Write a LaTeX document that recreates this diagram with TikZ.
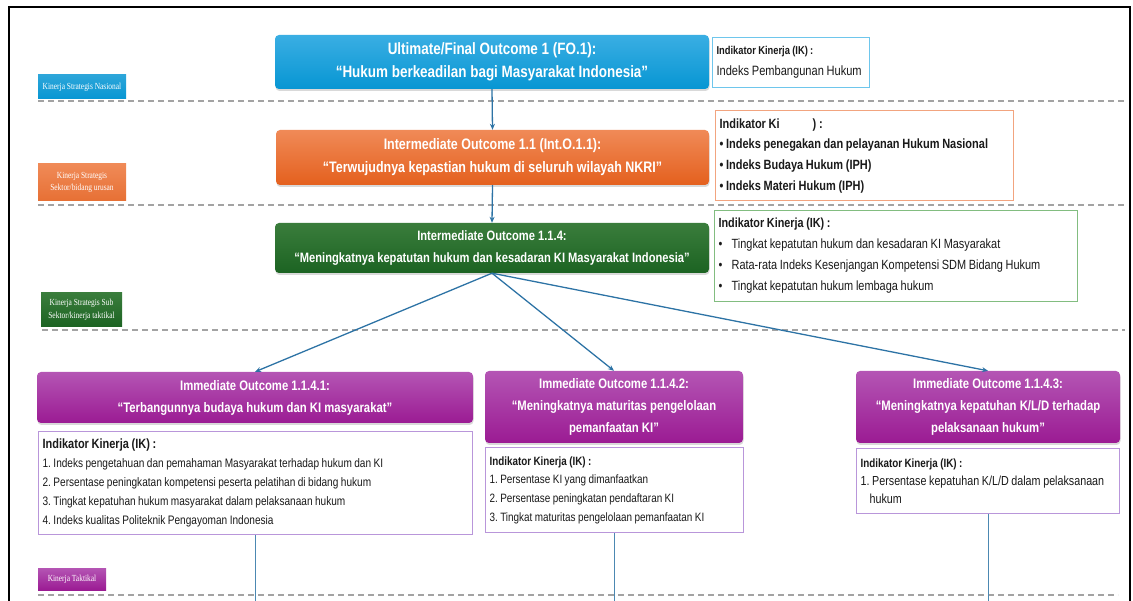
\documentclass[tikz,border=0pt]{standalone}
\usepackage{fontspec}
\setmainfont{Liberation Sans}
\newfontfamily\nar[FakeStretch=0.82]{Liberation Sans}
\newfontfamily\tagf[FakeStretch=0.8]{Liberation Serif}
\newcommand\tightsp{\frenchspacing\spaceskip=0.2em plus 0.05em minus 0.02em\relax}
\newcommand\ikhead[1]{{\bfseries\fontsize{#1}{10}\selectfont\tightsp Indikator Kinerja (IK) :}}
\usetikzlibrary{shadows,arrows.meta}
\definecolor{blueT}{HTML}{3AAEE3}
\definecolor{blueB}{HTML}{0796D3}
\definecolor{orT}{HTML}{F08A57}
\definecolor{orB}{HTML}{E4601E}
\definecolor{grT}{HTML}{3A7D3C}
\definecolor{grB}{HTML}{1C6322}
\definecolor{puT}{HTML}{B455B4}
\definecolor{puB}{HTML}{9B1B93}
\definecolor{ikBlue}{HTML}{6EC6EC}
\definecolor{ikOr}{HTML}{F2A47F}
\definecolor{ikGr}{HTML}{82BD80}
\definecolor{ikPu}{HTML}{B996DA}
\definecolor{conn}{HTML}{2D73A5}
\definecolor{sepc}{HTML}{A3A3A3}
\definecolor{ink}{HTML}{1A1A1A}
\tikzset{
  mainbox/.style={rounded corners=4pt, inner sep=0pt, align=center, text=white,
    drop shadow={shadow xshift=0.5pt, shadow yshift=-2pt, opacity=0.3}},
  tagbox/.style={inner sep=0pt, align=center, text=white,
    font=\tagf\fontsize{9.3}{12.5}\selectfont},
  ikbox/.style={draw=#1, line width=1.2pt, fill=white, inner xsep=4pt, inner ysep=0pt,
    anchor=north west, align=left, text=ink},
  sepline/.style={draw=sepc, line width=2pt, dash pattern=on 6pt off 4pt},
  arr/.style={draw=conn, line width=1.3pt, -{Stealth[length=6pt,width=5pt]}},
  drop/.style={draw=conn!85, line width=1pt},
}
\begin{document}
\begin{tikzpicture}[x=1pt,y=-1pt]
\useasboundingbox (0,0) rectangle (1133,601);
% frame
\draw[line width=2.5pt] (9,601) -- (9,7) -- (1130,7) -- (1130,601);
% separators
\draw[sepline] (38,101) -- (1125,101);
\draw[sepline] (38,205) -- (1125,205);
\draw[sepline] (42,330) -- (1125,330);
\draw[sepline] (38,595) -- (1118,595);
% level tags
\node[tagbox, top color=blueB!85, bottom color=blueB, minimum width=88pt, minimum height=24pt] (t1) at (82,87) {Kinerja Strategis Nasional};
\node[tagbox, top color=orT, bottom color=orB!90, minimum width=88pt, minimum height=37pt] (t2) at (82,182.5) {Kinerja Strategis\\Sektor/bidang urusan};
\node[tagbox, top color=grT, bottom color=grB, minimum width=81pt, minimum height=34pt] (t3) at (81.5,310) {Kinerja Strategis Sub\\Sektor/kinerja taktikal};
\node[tagbox, top color=puT, bottom color=puB, minimum width=68pt, minimum height=22pt] (t4) at (72,579) {Kinerja Taktikal};
% main outcome boxes
\node[mainbox, top color=blueT, bottom color=blueB, minimum width=434pt, minimum height=54pt,
  font=\nar\bfseries\fontsize{16.4}{23}\selectfont] (fo) at (492,62)
  {Ultimate/Final Outcome 1 (FO.1):\\“Hukum berkeadilan bagi Masyarakat Indonesia”};
\node[mainbox, top color=orT, bottom color=orB, minimum width=433pt, minimum height=55pt,
  font=\nar\bfseries\fontsize{15.2}{23}\selectfont] (io) at (492.5,157.5)
  {Intermediate Outcome 1.1 (Int.O.1.1):\\“Terwujudnya kepastian hukum di seluruh wilayah NKRI”};
\node[mainbox, top color=grT, bottom color=grB, minimum width=434pt, minimum height=50pt,
  font=\nar\bfseries\fontsize{13.6}{22}\selectfont] (io4) at (492,248)
  {Intermediate Outcome 1.1.4:\\“Meningkatnya kepatutan hukum dan kesadaran KI Masyarakat Indonesia”};
\node[mainbox, top color=puT, bottom color=puB, minimum width=436pt, minimum height=51pt,
  font=\nar\bfseries\fontsize{13.8}{22}\selectfont] (p1) at (255,397.5)
  {Immediate Outcome 1.1.4.1:\\“Terbangunnya budaya hukum dan KI masyarakat”};
\node[mainbox, top color=puT, bottom color=puB, minimum width=258pt, minimum height=72pt,
  font=\nar\bfseries\fontsize{13.8}{22}\selectfont] (p2) at (614,407)
  {Immediate Outcome 1.1.4.2:\\“Meningkatnya maturitas pengelolaan\\pemanfaatan KI”};
\node[mainbox, top color=puT, bottom color=puB, minimum width=264pt, minimum height=72pt,
  font=\nar\bfseries\fontsize{13.8}{22}\selectfont] (p3) at (988,407)
  {Immediate Outcome 1.1.4.3:\\“Meningkatnya kepatuhan K/L/D terhadap\\pelaksanaan hukum”};
% indicator boxes
\node[ikbox=ikBlue, text width=149pt, minimum height=50pt,
  font=\nar\fontsize{13.5}{21}\selectfont] (ik0) at (712,37)
  {\tightsp\ikhead{11.4}\\Indeks Pembangunan Hukum};
\node[ikbox=ikOr, text width=290pt, minimum height=90pt,
  font=\nar\bfseries\fontsize{13.4}{20.7}\selectfont] (ik1) at (715,110)
  {\tightsp Indikator Ki\hspace{33pt}) :\\• Indeks penegakan dan pelayanan Hukum Nasional\\• Indeks Budaya Hukum (IPH)\\• Indeks Materi Hukum (IPH)};
\node[ikbox=ikGr, text width=355pt, minimum height=91pt,
  font=\nar\fontsize{13.35}{21}\selectfont] (ik2) at (714,210)
  {\tightsp\ikhead{13.2}\\\makebox[13pt][l]{•}Tingkat kepatutan hukum dan kesadaran KI Masyarakat\\\makebox[13pt][l]{•}Rata-rata Indeks Kesenjangan Kompetensi SDM Bidang Hukum\\\makebox[13pt][l]{•}Tingkat kepatutan hukum lembaga hukum};
\node[ikbox=ikPu, text width=426pt, minimum height=103pt,
  font=\nar\fontsize{12.3}{19}\selectfont] (ik3) at (38,431)
  {\tightsp\ikhead{13.4}\\1. Indeks pengetahuan dan pemahaman Masyarakat terhadap hukum dan KI\\2. Persentase peningkatan kompetensi peserta pelatihan di bidang hukum\\3. Tingkat kepatuhan hukum masyarakat dalam pelaksanaan hukum\\4. Indeks kualitas Politeknik Pengayoman Indonesia};
\node[ikbox=ikPu, text width=250pt, minimum height=85pt,
  font=\nar\fontsize{12.1}{18.7}\selectfont] (ik4) at (485,447)
  {\tightsp\ikhead{12}\\1. Persentase KI yang dimanfaatkan\\2. Persentase peningkatan pendaftaran KI\\3. Tingkat maturitas pengelolaan pemanfaatan KI};
\node[ikbox=ikPu, text width=255pt, minimum height=65pt,
  font=\nar\fontsize{13.1}{18}\selectfont] (ik5) at (856,448)
  {\tightsp\ikhead{12}\\1. Persentase kepatuhan K/L/D dalam pelaksanaan\\\hspace*{9pt}hukum};
% connectors
\draw[arr] (fo.south) -- (io.north);
\draw[arr] (io.south) -- (io4.north);
\draw[arr] (io4.south) -- (p1.north);
\draw[arr] (io4.south) -- (p2.north);
\draw[arr] (io4.south) -- (p3.north);
\coordinate (bot) at (0,602);
\draw[drop] (ik3.south) -- (ik3.south |- bot);
\draw[drop] (ik4.south) -- (ik4.south |- bot);
\draw[drop] (ik5.south) -- (ik5.south |- bot);
\end{tikzpicture}
\end{document}
